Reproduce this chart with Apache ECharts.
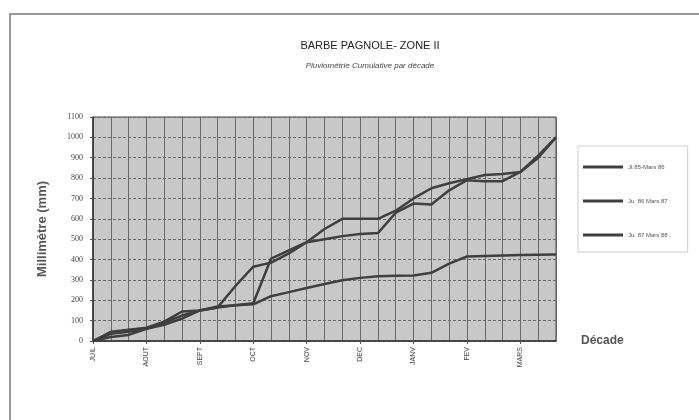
<!DOCTYPE html>
<html>
<head>
<meta charset="utf-8">
<script src="https://cdn.jsdelivr.net/npm/echarts@6/dist/echarts.min.js"></script>
<style>
  html, body { margin: 0; padding: 0; background: #fff; }
  #chart { width: 699px; height: 420px; }
</style>
</head>
<body>
<div id="chart"></div>
<script>
// months of the campaign, 3 décades each
const months = ['JUIL', 'AOUT', 'SEPT', 'OCT', 'NOV', 'DEC', 'JANV', 'FEV', 'MARS'];
const decades = [];
months.forEach(m => { [1, 2, 3].forEach(d => decades.push(m + ' ' + d)); });

// cumulative rainfall (mm)
const season8586 = [0, 45, 55, 65, 95, 145, 150, 165, 270, 365, 385, 430, 485, 550, 600, 600, 600, 640, 700, 750, 775, 795, 815, 820, 830, 900, 1000];
const season8687 = [0, 20, 30, 60, 80, 110, 150, 170, 175, 185, 405, 445, 485, 500, 515, 525, 530, 630, 675, 670, 740, 790, 785, 785, 830, 910, 1000];
const season8788 = [0, 35, 45, 60, 90, 125, 150, 165, 175, 180, 220, 240, 260, 280, 298, 310, 318, 320, 322, 335, 380, 415, 418, 420, 422, 424, 425];

const seriesNames = ['Jt 85-Mars 86', 'Ju. 86 Mars 87', 'Ju. 87 Mars 88'];
const seriesData = [season8586, season8687, season8788];

const chart = echarts.init(document.getElementById('chart'));

const option = {
  backgroundColor: '#fff',
  animation: false,
  textStyle: { fontFamily: 'Liberation Sans' },
  title: [
    {
      text: 'BARBE PAGNOLE- ZONE II',
      left: 365, top: 35, textAlign: 'center',
      textStyle: { fontSize: 11, fontWeight: 'normal', color: '#222' }
    },
    {
      text: 'Pluviométrie Cumulative par décade',
      left: 365, top: 57, textAlign: 'center',
      textStyle: { fontSize: 8, fontStyle: 'italic', fontWeight: 'normal', color: '#444' }
    }
  ],
  legend: {
    orient: 'vertical',
    left: 578, top: 146,
    itemGap: 28,
    itemWidth: 40, itemHeight: 3,
    icon: 'rect',
    padding: [18, 20, 14, 5],
    borderColor: '#ccc', borderWidth: 1,
    textStyle: { fontSize: 6, color: '#555' },
    data: seriesNames
  },
  grid: {
    left: 93, right: 143, top: 117, bottom: 79,
    show: true,
    backgroundColor: '#c8c8c8',
    borderColor: '#444', borderWidth: 1
  },
  xAxis: {
    type: 'category',
    data: decades,
    boundaryGap: false,
    name: 'Décade',
    nameLocation: 'end',
    nameGap: 25,
    nameTextStyle: { fontSize: 12, fontWeight: 'bold', color: '#555' },
    axisLine: { lineStyle: { color: '#333', width: 1.5 } },
    axisTick: { show: true, interval: 2, length: 3, lineStyle: { color: '#555' } },
    axisLabel: {
      interval: 2, rotate: 90, fontSize: 7, color: '#444', margin: 6,
      formatter: v => v.split(' ')[0]
    },
    splitLine: { show: true, interval: 0, lineStyle: { color: '#6a6a6a', width: 1 } }
  },
  yAxis: {
    type: 'value',
    min: 0, max: 1100, interval: 100,
    name: 'Millimètre (mm)',
    nameLocation: 'middle',
    nameGap: 44,
    nameTextStyle: { fontSize: 13, fontWeight: 'bold', color: '#555' },
    axisLine: { show: true, lineStyle: { color: '#333', width: 1.5 } },
    axisTick: { show: true, length: 3, lineStyle: { color: '#555' } },
    axisLabel: {
      fontSize: 8, color: '#444', margin: 10, fontFamily: 'Liberation Serif',
      formatter: v => String(v)
    },
    splitLine: { show: true, lineStyle: { color: '#6a6a6a', width: 1, type: [3, 2] } }
  },
  graphic: [
    {
      type: 'polyline',
      shape: { points: [[10, 420], [10, 14], [699, 14]] },
      style: { stroke: '#777', lineWidth: 1.5, fill: null },
      silent: true
    }
  ],
  series: seriesNames.map((name, k) => ({
    name: name,
    type: 'line',
    data: seriesData[k],
    symbol: 'none',
    smooth: false,
    lineStyle: { color: '#3f3f3f', width: 2.5 },
    itemStyle: { color: '#3f3f3f' }
  }))
};

chart.setOption(option);
</script>
</body>
</html>
